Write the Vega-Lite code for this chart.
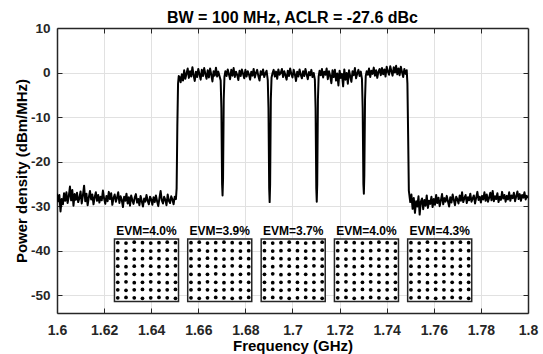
{
"$schema":"https://vega.github.io/schema/vega-lite/v6.json",
"width":471,"height":285,
"autosize":{"type":"none"},
"padding":{"left":57,"top":28,"right":15,"bottom":41},
"background":"white",
"config":{"font":"Liberation Sans","view":{"stroke":null}},
"title":{"text":"BW = 100 MHz, ACLR = -27.6 dBc","fontSize":16,"fontWeight":"bold","color":"#000000","offset":-5,"anchor":"middle","font":"Liberation Sans"},
"datasets":{
"spec":[
{"f":1.6000,"p":-27.2},{"f":1.6005,"p":-28.9},{"f":1.6010,"p":-27.5},{"f":1.6015,"p":-31.2},{"f":1.6020,"p":-28.4},{"f":1.6025,"p":-29.6},{"f":1.6030,"p":-27.1},{"f":1.6035,"p":-28.8},{"f":1.6040,"p":-26.9},{"f":1.6045,"p":-29.3},
{"f":1.6050,"p":-27.8},{"f":1.6055,"p":-25.6},{"f":1.6060,"p":-28.7},{"f":1.6065,"p":-26.4},{"f":1.6070,"p":-29.9},{"f":1.6075,"p":-27.3},{"f":1.6080,"p":-28.6},{"f":1.6085,"p":-27.0},{"f":1.6090,"p":-29.1},{"f":1.6095,"p":-28.2},
{"f":1.6100,"p":-26.7},{"f":1.6105,"p":-29.4},{"f":1.6110,"p":-27.6},{"f":1.6115,"p":-25.4},{"f":1.6120,"p":-28.9},{"f":1.6125,"p":-27.2},{"f":1.6130,"p":-29.8},{"f":1.6135,"p":-28.1},{"f":1.6140,"p":-26.6},{"f":1.6145,"p":-28.5},
{"f":1.6150,"p":-27.4},{"f":1.6155,"p":-29.6},{"f":1.6160,"p":-28.0},{"f":1.6165,"p":-26.9},{"f":1.6170,"p":-28.8},{"f":1.6175,"p":-27.5},{"f":1.6180,"p":-29.2},{"f":1.6185,"p":-27.9},{"f":1.6190,"p":-28.7},{"f":1.6195,"p":-26.5},
{"f":1.6200,"p":-28.3},{"f":1.6205,"p":-29.5},{"f":1.6210,"p":-27.7},{"f":1.6215,"p":-28.9},{"f":1.6220,"p":-26.8},{"f":1.6225,"p":-28.4},{"f":1.6230,"p":-27.1},{"f":1.6235,"p":-29.7},{"f":1.6240,"p":-28.2},{"f":1.6245,"p":-27.4},
{"f":1.6250,"p":-29.0},{"f":1.6255,"p":-28.1},{"f":1.6260,"p":-26.9},{"f":1.6265,"p":-29.3},{"f":1.6270,"p":-27.8},{"f":1.6275,"p":-28.6},{"f":1.6280,"p":-30.2},{"f":1.6285,"p":-27.9},{"f":1.6290,"p":-28.8},{"f":1.6295,"p":-27.2},
{"f":1.6300,"p":-29.4},{"f":1.6305,"p":-28.0},{"f":1.6310,"p":-29.9},{"f":1.6315,"p":-27.6},{"f":1.6320,"p":-28.7},{"f":1.6325,"p":-29.5},{"f":1.6330,"p":-28.1},{"f":1.6335,"p":-27.3},{"f":1.6340,"p":-29.2},{"f":1.6345,"p":-28.4},
{"f":1.6350,"p":-29.8},{"f":1.6355,"p":-27.7},{"f":1.6360,"p":-28.9},{"f":1.6365,"p":-30.1},{"f":1.6370,"p":-28.3},{"f":1.6375,"p":-29.0},{"f":1.6380,"p":-27.5},{"f":1.6385,"p":-28.8},{"f":1.6390,"p":-29.6},{"f":1.6395,"p":-27.9},
{"f":1.6400,"p":-28.5},{"f":1.6405,"p":-29.7},{"f":1.6410,"p":-28.0},{"f":1.6415,"p":-29.1},{"f":1.6420,"p":-27.6},{"f":1.6425,"p":-28.9},{"f":1.6430,"p":-30.0},{"f":1.6435,"p":-28.2},{"f":1.6440,"p":-26.6},{"f":1.6445,"p":-28.7},
{"f":1.6450,"p":-29.4},{"f":1.6455,"p":-27.9},{"f":1.6460,"p":-28.6},{"f":1.6465,"p":-29.8},{"f":1.6470,"p":-27.4},{"f":1.6475,"p":-28.8},{"f":1.6480,"p":-29.3},{"f":1.6485,"p":-27.8},{"f":1.6490,"p":-28.5},{"f":1.6495,"p":-29.6},
{"f":1.6500,"p":-27.9},{"f":1.6505,"p":-28.4},{"f":1.6508,"p":-26.0},{"f":1.6511,"p":-12.0},{"f":1.6514,"p":-2.5},{"f":1.6517,"p":-0.8},
{"f":1.6520,"p":-1.0},{"f":1.6525,"p":-2.2},{"f":1.6530,"p":-0.4},{"f":1.6535,"p":-1.8},{"f":1.6540,"p":0.5},{"f":1.6545,"p":-1.4},{"f":1.6550,"p":-0.2},{"f":1.6555,"p":0.9},{"f":1.6560,"p":-1.2},{"f":1.6565,"p":0.3},
{"f":1.6570,"p":-0.9},{"f":1.6575,"p":1.2},{"f":1.6580,"p":-0.6},{"f":1.6585,"p":-1.9},{"f":1.6590,"p":0.2},{"f":1.6595,"p":-1.0},{"f":1.6600,"p":0.8},{"f":1.6605,"p":-0.4},{"f":1.6610,"p":-1.6},{"f":1.6615,"p":0.6},
{"f":1.6620,"p":-0.8},{"f":1.6625,"p":1.0},{"f":1.6630,"p":-0.3},{"f":1.6635,"p":-1.4},{"f":1.6640,"p":0.5},{"f":1.6645,"p":-1.1},{"f":1.6650,"p":0.9},{"f":1.6655,"p":-0.5},{"f":1.6660,"p":-2.0},{"f":1.6665,"p":0.3},
{"f":1.6670,"p":-0.7},{"f":1.6675,"p":1.1},{"f":1.6680,"p":-0.9},{"f":1.6685,"p":0.2},{"f":1.6690,"p":-0.8},{"f":1.6695,"p":-1.8},{"f":1.6698,"p":-8},{"f":1.6701,"p":-25},{"f":1.6703,"p":-27.6},{"f":1.6705,"p":-24},{"f":1.6708,"p":-6},{"f":1.6711,"p":-1.0},
{"f":1.6715,"p":0.3},{"f":1.6720,"p":-0.8},{"f":1.6725,"p":0.7},{"f":1.6730,"p":-0.4},{"f":1.6735,"p":-1.5},{"f":1.6740,"p":0.6},{"f":1.6745,"p":-0.7},{"f":1.6750,"p":1.0},{"f":1.6755,"p":-1.0},{"f":1.6760,"p":0.2},
{"f":1.6765,"p":-0.5},{"f":1.6770,"p":-1.7},{"f":1.6775,"p":0.4},{"f":1.6780,"p":-0.8},{"f":1.6785,"p":0.7},{"f":1.6790,"p":-0.3},{"f":1.6795,"p":-1.3},{"f":1.6800,"p":0.6},{"f":1.6805,"p":-0.9},{"f":1.6810,"p":0.3},
{"f":1.6815,"p":-0.4},{"f":1.6820,"p":-1.6},{"f":1.6825,"p":0.2},{"f":1.6830,"p":-0.7},{"f":1.6835,"p":0.8},{"f":1.6840,"p":-1.1},{"f":1.6845,"p":-0.1},{"f":1.6850,"p":0.6},{"f":1.6855,"p":-0.8},{"f":1.6860,"p":-1.8},
{"f":1.6865,"p":0.3},{"f":1.6870,"p":-0.5},{"f":1.6875,"p":0.7},{"f":1.6880,"p":-1.0},{"f":1.6885,"p":-0.2},{"f":1.6890,"p":0.4},{"f":1.6895,"p":-1.7},{"f":1.6898,"p":-8},{"f":1.6901,"p":-26},{"f":1.6903,"p":-29.1},{"f":1.6905,"p":-25},{"f":1.6908,"p":-6},{"f":1.6911,"p":-1.1},
{"f":1.6915,"p":-0.2},{"f":1.6920,"p":0.6},{"f":1.6925,"p":-0.9},{"f":1.6930,"p":0.2},{"f":1.6935,"p":-1.4},{"f":1.6940,"p":0.7},{"f":1.6945,"p":-0.5},{"f":1.6950,"p":-0.1},{"f":1.6955,"p":0.8},{"f":1.6960,"p":-1.0},
{"f":1.6965,"p":0.3},{"f":1.6970,"p":-0.6},{"f":1.6975,"p":-1.6},{"f":1.6980,"p":0.4},{"f":1.6985,"p":-0.8},{"f":1.6990,"p":0.9},{"f":1.6995,"p":-0.3},{"f":1.7000,"p":-1.1},{"f":1.7005,"p":0.6},{"f":1.7010,"p":-0.4},
{"f":1.7015,"p":-1.9},{"f":1.7020,"p":0.2},{"f":1.7025,"p":-0.9},{"f":1.7030,"p":0.7},{"f":1.7035,"p":-0.5},{"f":1.7040,"p":-1.3},{"f":1.7045,"p":0.3},{"f":1.7050,"p":-0.8},{"f":1.7055,"p":0.8},{"f":1.7060,"p":-0.4},
{"f":1.7065,"p":-1.5},{"f":1.7070,"p":0.1},{"f":1.7075,"p":-0.6},{"f":1.7080,"p":0.6},{"f":1.7085,"p":-1.0},{"f":1.7090,"p":-0.1},{"f":1.7095,"p":-1.6},{"f":1.7098,"p":-8},{"f":1.7101,"p":-26},{"f":1.7103,"p":-29.0},{"f":1.7105,"p":-25},{"f":1.7108,"p":-6},{"f":1.7111,"p":-0.9},
{"f":1.7115,"p":0.4},{"f":1.7120,"p":-0.6},{"f":1.7125,"p":0.8},{"f":1.7130,"p":-1.1},{"f":1.7135,"p":0.2},{"f":1.7140,"p":-0.5},{"f":1.7145,"p":0.9},{"f":1.7150,"p":-1.5},{"f":1.7155,"p":0.3},{"f":1.7160,"p":-0.7},
{"f":1.7165,"p":-2.4},{"f":1.7170,"p":0.5},{"f":1.7175,"p":-1.0},{"f":1.7180,"p":0.6},{"f":1.7185,"p":-1.8},{"f":1.7190,"p":-0.2},{"f":1.7195,"p":-2.9},{"f":1.7200,"p":0.4},{"f":1.7205,"p":-1.2},{"f":1.7210,"p":-0.3},
{"f":1.7215,"p":-3.1},{"f":1.7220,"p":0.7},{"f":1.7225,"p":-1.6},{"f":1.7230,"p":-0.1},{"f":1.7235,"p":-2.5},{"f":1.7240,"p":0.5},{"f":1.7245,"p":-0.8},{"f":1.7250,"p":-2.1},{"f":1.7255,"p":0.3},{"f":1.7260,"p":-0.6},
{"f":1.7265,"p":1.0},{"f":1.7270,"p":-1.3},{"f":1.7275,"p":-0.2},{"f":1.7280,"p":0.6},{"f":1.7285,"p":-0.8},{"f":1.7290,"p":0.2},{"f":1.7295,"p":-1.5},{"f":1.7298,"p":-8},{"f":1.7301,"p":-25},{"f":1.7303,"p":-27.2},{"f":1.7305,"p":-23},{"f":1.7308,"p":-6},{"f":1.7311,"p":-0.8},
{"f":1.7315,"p":0.3},{"f":1.7320,"p":-0.5},{"f":1.7325,"p":0.9},{"f":1.7330,"p":-1.0},{"f":1.7335,"p":0.4},{"f":1.7340,"p":-0.3},{"f":1.7345,"p":1.1},{"f":1.7350,"p":-0.7},{"f":1.7355,"p":0.5},{"f":1.7360,"p":-1.2},
{"f":1.7365,"p":0.2},{"f":1.7370,"p":0.8},{"f":1.7375,"p":-0.6},{"f":1.7380,"p":1.0},{"f":1.7385,"p":-0.4},{"f":1.7390,"p":0.7},{"f":1.7395,"p":-0.9},{"f":1.7400,"p":1.3},{"f":1.7405,"p":0.2},{"f":1.7410,"p":-0.5},
{"f":1.7415,"p":1.4},{"f":1.7420,"p":0.3},{"f":1.7425,"p":-0.7},{"f":1.7430,"p":1.2},{"f":1.7435,"p":0.0},{"f":1.7440,"p":1.5},{"f":1.7445,"p":-0.4},{"f":1.7450,"p":0.9},{"f":1.7455,"p":-0.6},{"f":1.7460,"p":1.3},
{"f":1.7465,"p":0.1},{"f":1.7470,"p":-1.0},{"f":1.7475,"p":0.8},{"f":1.7480,"p":-0.3},{"f":1.7485,"p":0.5},{"f":1.7488,"p":-2.5},{"f":1.7491,"p":-14},{"f":1.7494,"p":-26.5},
{"f":1.7500,"p":-29.1},{"f":1.7505,"p":-27.4},{"f":1.7510,"p":-30.6},{"f":1.7515,"p":-28.2},{"f":1.7520,"p":-31.5},{"f":1.7525,"p":-28.9},{"f":1.7530,"p":-30.1},{"f":1.7535,"p":-27.8},{"f":1.7540,"p":-31.9},{"f":1.7545,"p":-29.0},
{"f":1.7550,"p":-28.3},{"f":1.7555,"p":-30.7},{"f":1.7560,"p":-28.6},{"f":1.7565,"p":-29.9},{"f":1.7570,"p":-27.6},{"f":1.7575,"p":-30.4},{"f":1.7580,"p":-28.8},{"f":1.7585,"p":-29.5},{"f":1.7590,"p":-27.9},{"f":1.7595,"p":-30.2},
{"f":1.7600,"p":-28.4},{"f":1.7605,"p":-29.7},{"f":1.7610,"p":-27.5},{"f":1.7615,"p":-29.3},{"f":1.7620,"p":-28.1},{"f":1.7625,"p":-30.0},{"f":1.7630,"p":-28.7},{"f":1.7635,"p":-27.3},{"f":1.7640,"p":-29.6},{"f":1.7645,"p":-28.2},
{"f":1.7650,"p":-29.0},{"f":1.7655,"p":-27.7},{"f":1.7660,"p":-28.9},{"f":1.7665,"p":-30.1},{"f":1.7670,"p":-28.0},{"f":1.7675,"p":-29.2},{"f":1.7680,"p":-27.4},{"f":1.7685,"p":-28.6},{"f":1.7690,"p":-29.8},{"f":1.7695,"p":-27.9},
{"f":1.7700,"p":-28.5},{"f":1.7705,"p":-29.4},{"f":1.7710,"p":-27.6},{"f":1.7715,"p":-28.8},{"f":1.7720,"p":-26.9},{"f":1.7725,"p":-29.1},{"f":1.7730,"p":-28.2},{"f":1.7735,"p":-27.5},{"f":1.7740,"p":-29.3},{"f":1.7745,"p":-28.0},
{"f":1.7750,"p":-28.7},{"f":1.7755,"p":-27.2},{"f":1.7760,"p":-29.0},{"f":1.7765,"p":-28.3},{"f":1.7770,"p":-27.6},{"f":1.7775,"p":-29.4},{"f":1.7780,"p":-28.1},{"f":1.7785,"p":-26.8},{"f":1.7790,"p":-28.6},{"f":1.7795,"p":-27.9},
{"f":1.7800,"p":-29.2},{"f":1.7805,"p":-27.7},{"f":1.7810,"p":-28.5},{"f":1.7815,"p":-26.9},{"f":1.7820,"p":-28.8},{"f":1.7825,"p":-27.4},{"f":1.7830,"p":-29.0},{"f":1.7835,"p":-28.1},{"f":1.7840,"p":-27.0},{"f":1.7845,"p":-28.7},
{"f":1.7850,"p":-26.6},{"f":1.7855,"p":-28.9},{"f":1.7860,"p":-27.8},{"f":1.7865,"p":-28.4},{"f":1.7870,"p":-27.1},{"f":1.7875,"p":-29.1},{"f":1.7880,"p":-27.9},{"f":1.7885,"p":-28.6},{"f":1.7890,"p":-26.8},{"f":1.7895,"p":-28.3},
{"f":1.7900,"p":-27.5},{"f":1.7905,"p":-29.0},{"f":1.7910,"p":-27.7},{"f":1.7915,"p":-28.5},{"f":1.7920,"p":-26.9},{"f":1.7925,"p":-28.8},{"f":1.7930,"p":-27.6},{"f":1.7935,"p":-28.2},{"f":1.7940,"p":-27.0},{"f":1.7945,"p":-28.9},
{"f":1.7950,"p":-27.8},{"f":1.7955,"p":-26.7},{"f":1.7960,"p":-28.4},{"f":1.7965,"p":-27.3},{"f":1.7970,"p":-28.8},{"f":1.7975,"p":-27.5},{"f":1.7980,"p":-28.1},{"f":1.7985,"p":-26.9},{"f":1.7990,"p":-28.5},{"f":1.7995,"p":-27.7},{"f":1.8000,"p":-28.2}
],
"boxes":[
{"x0":1.6244,"x1":1.6516,"y0":-37.4,"y1":-51.4},
{"x0":1.6555,"x1":1.6827,"y0":-37.4,"y1":-51.4},
{"x0":1.6867,"x1":1.7139,"y0":-37.4,"y1":-51.4},
{"x0":1.7178,"x1":1.7450,"y0":-37.4,"y1":-51.4},
{"x0":1.7489,"x1":1.7761,"y0":-37.4,"y1":-51.4}
],
"labels":[
{"f":1.6380,"p":-36.5,"t":"EVM=4.0%"},
{"f":1.6691,"p":-36.5,"t":"EVM=3.9%"},
{"f":1.7003,"p":-36.5,"t":"EVM=3.7%"},
{"f":1.7314,"p":-36.5,"t":"EVM=4.0%"},
{"f":1.7625,"p":-36.5,"t":"EVM=4.3%"}
],
"dots":[
{"f":1.6258,"p":-38.2},{"f":1.6293,"p":-38.3},{"f":1.6328,"p":-38.1},{"f":1.6363,"p":-38.2},{"f":1.6398,"p":-38.3},{"f":1.6433,"p":-38.2},{"f":1.6468,"p":-38.1},{"f":1.6503,"p":-38.2},
{"f":1.6258,"p":-40.0},{"f":1.6293,"p":-40.1},{"f":1.6328,"p":-39.9},{"f":1.6363,"p":-40.0},{"f":1.6398,"p":-40.1},{"f":1.6433,"p":-40.0},{"f":1.6468,"p":-39.9},{"f":1.6503,"p":-40.0},
{"f":1.6258,"p":-41.8},{"f":1.6293,"p":-41.7},{"f":1.6328,"p":-41.9},{"f":1.6363,"p":-41.8},{"f":1.6398,"p":-41.7},{"f":1.6433,"p":-41.8},{"f":1.6468,"p":-41.9},{"f":1.6503,"p":-41.8},
{"f":1.6258,"p":-43.5},{"f":1.6293,"p":-43.6},{"f":1.6328,"p":-43.5},{"f":1.6363,"p":-43.4},{"f":1.6398,"p":-43.5},{"f":1.6433,"p":-43.6},{"f":1.6468,"p":-43.5},{"f":1.6503,"p":-43.4},
{"f":1.6258,"p":-45.3},{"f":1.6293,"p":-45.2},{"f":1.6328,"p":-45.3},{"f":1.6363,"p":-45.4},{"f":1.6398,"p":-45.3},{"f":1.6433,"p":-45.2},{"f":1.6468,"p":-45.3},{"f":1.6503,"p":-45.4},
{"f":1.6258,"p":-47.1},{"f":1.6293,"p":-47.0},{"f":1.6328,"p":-47.2},{"f":1.6363,"p":-47.1},{"f":1.6398,"p":-47.0},{"f":1.6433,"p":-47.1},{"f":1.6468,"p":-47.2},{"f":1.6503,"p":-47.1},
{"f":1.6258,"p":-48.8},{"f":1.6293,"p":-48.9},{"f":1.6328,"p":-48.8},{"f":1.6363,"p":-48.7},{"f":1.6398,"p":-48.8},{"f":1.6433,"p":-48.9},{"f":1.6468,"p":-48.8},{"f":1.6503,"p":-48.7},
{"f":1.6258,"p":-50.6},{"f":1.6293,"p":-50.5},{"f":1.6328,"p":-50.6},{"f":1.6363,"p":-50.7},{"f":1.6398,"p":-50.6},{"f":1.6433,"p":-50.5},{"f":1.6468,"p":-50.6},{"f":1.6503,"p":-50.7},
{"f":1.6569,"p":-38.2},{"f":1.6604,"p":-38.1},{"f":1.6639,"p":-38.3},{"f":1.6674,"p":-38.2},{"f":1.6709,"p":-38.1},{"f":1.6744,"p":-38.2},{"f":1.6779,"p":-38.3},{"f":1.6814,"p":-38.2},
{"f":1.6569,"p":-40.0},{"f":1.6604,"p":-39.9},{"f":1.6639,"p":-40.1},{"f":1.6674,"p":-40.0},{"f":1.6709,"p":-39.9},{"f":1.6744,"p":-40.0},{"f":1.6779,"p":-40.1},{"f":1.6814,"p":-40.0},
{"f":1.6569,"p":-41.8},{"f":1.6604,"p":-41.9},{"f":1.6639,"p":-41.7},{"f":1.6674,"p":-41.8},{"f":1.6709,"p":-41.9},{"f":1.6744,"p":-41.8},{"f":1.6779,"p":-41.7},{"f":1.6814,"p":-41.8},
{"f":1.6569,"p":-43.5},{"f":1.6604,"p":-43.4},{"f":1.6639,"p":-43.5},{"f":1.6674,"p":-43.6},{"f":1.6709,"p":-43.5},{"f":1.6744,"p":-43.4},{"f":1.6779,"p":-43.5},{"f":1.6814,"p":-43.6},
{"f":1.6569,"p":-45.3},{"f":1.6604,"p":-45.4},{"f":1.6639,"p":-45.3},{"f":1.6674,"p":-45.2},{"f":1.6709,"p":-45.3},{"f":1.6744,"p":-45.4},{"f":1.6779,"p":-45.3},{"f":1.6814,"p":-45.2},
{"f":1.6569,"p":-47.1},{"f":1.6604,"p":-47.2},{"f":1.6639,"p":-47.0},{"f":1.6674,"p":-47.1},{"f":1.6709,"p":-47.2},{"f":1.6744,"p":-47.1},{"f":1.6779,"p":-47.0},{"f":1.6814,"p":-47.1},
{"f":1.6569,"p":-48.8},{"f":1.6604,"p":-48.7},{"f":1.6639,"p":-48.8},{"f":1.6674,"p":-48.9},{"f":1.6709,"p":-48.8},{"f":1.6744,"p":-48.7},{"f":1.6779,"p":-48.8},{"f":1.6814,"p":-48.9},
{"f":1.6569,"p":-50.6},{"f":1.6604,"p":-50.7},{"f":1.6639,"p":-50.6},{"f":1.6674,"p":-50.5},{"f":1.6709,"p":-50.6},{"f":1.6744,"p":-50.7},{"f":1.6779,"p":-50.6},{"f":1.6814,"p":-50.5},
{"f":1.6881,"p":-38.2},{"f":1.6916,"p":-38.3},{"f":1.6951,"p":-38.2},{"f":1.6986,"p":-38.1},{"f":1.7021,"p":-38.2},{"f":1.7056,"p":-38.3},{"f":1.7091,"p":-38.2},{"f":1.7126,"p":-38.1},
{"f":1.6881,"p":-40.0},{"f":1.6916,"p":-40.1},{"f":1.6951,"p":-40.0},{"f":1.6986,"p":-39.9},{"f":1.7021,"p":-40.0},{"f":1.7056,"p":-40.1},{"f":1.7091,"p":-40.0},{"f":1.7126,"p":-39.9},
{"f":1.6881,"p":-41.8},{"f":1.6916,"p":-41.7},{"f":1.6951,"p":-41.8},{"f":1.6986,"p":-41.9},{"f":1.7021,"p":-41.8},{"f":1.7056,"p":-41.7},{"f":1.7091,"p":-41.8},{"f":1.7126,"p":-41.9},
{"f":1.6881,"p":-43.5},{"f":1.6916,"p":-43.6},{"f":1.6951,"p":-43.4},{"f":1.6986,"p":-43.5},{"f":1.7021,"p":-43.6},{"f":1.7056,"p":-43.5},{"f":1.7091,"p":-43.4},{"f":1.7126,"p":-43.5},
{"f":1.6881,"p":-45.3},{"f":1.6916,"p":-45.2},{"f":1.6951,"p":-45.4},{"f":1.6986,"p":-45.3},{"f":1.7021,"p":-45.2},{"f":1.7056,"p":-45.3},{"f":1.7091,"p":-45.4},{"f":1.7126,"p":-45.3},
{"f":1.6881,"p":-47.1},{"f":1.6916,"p":-47.2},{"f":1.6951,"p":-47.1},{"f":1.6986,"p":-47.0},{"f":1.7021,"p":-47.1},{"f":1.7056,"p":-47.2},{"f":1.7091,"p":-47.1},{"f":1.7126,"p":-47.0},
{"f":1.6881,"p":-48.8},{"f":1.6916,"p":-48.7},{"f":1.6951,"p":-48.9},{"f":1.6986,"p":-48.8},{"f":1.7021,"p":-48.7},{"f":1.7056,"p":-48.8},{"f":1.7091,"p":-48.9},{"f":1.7126,"p":-48.8},
{"f":1.6881,"p":-50.6},{"f":1.6916,"p":-50.5},{"f":1.6951,"p":-50.6},{"f":1.6986,"p":-50.7},{"f":1.7021,"p":-50.6},{"f":1.7056,"p":-50.5},{"f":1.7091,"p":-50.6},{"f":1.7126,"p":-50.7},
{"f":1.7192,"p":-38.2},{"f":1.7227,"p":-38.1},{"f":1.7262,"p":-38.2},{"f":1.7297,"p":-38.3},{"f":1.7332,"p":-38.2},{"f":1.7367,"p":-38.1},{"f":1.7402,"p":-38.2},{"f":1.7437,"p":-38.3},
{"f":1.7192,"p":-40.0},{"f":1.7227,"p":-39.9},{"f":1.7262,"p":-40.0},{"f":1.7297,"p":-40.1},{"f":1.7332,"p":-40.0},{"f":1.7367,"p":-39.9},{"f":1.7402,"p":-40.0},{"f":1.7437,"p":-40.1},
{"f":1.7192,"p":-41.8},{"f":1.7227,"p":-41.9},{"f":1.7262,"p":-41.8},{"f":1.7297,"p":-41.7},{"f":1.7332,"p":-41.8},{"f":1.7367,"p":-41.9},{"f":1.7402,"p":-41.8},{"f":1.7437,"p":-41.7},
{"f":1.7192,"p":-43.5},{"f":1.7227,"p":-43.4},{"f":1.7262,"p":-43.6},{"f":1.7297,"p":-43.5},{"f":1.7332,"p":-43.4},{"f":1.7367,"p":-43.5},{"f":1.7402,"p":-43.6},{"f":1.7437,"p":-43.5},
{"f":1.7192,"p":-45.3},{"f":1.7227,"p":-45.4},{"f":1.7262,"p":-45.3},{"f":1.7297,"p":-45.2},{"f":1.7332,"p":-45.3},{"f":1.7367,"p":-45.4},{"f":1.7402,"p":-45.3},{"f":1.7437,"p":-45.2},
{"f":1.7192,"p":-47.1},{"f":1.7227,"p":-47.0},{"f":1.7262,"p":-47.2},{"f":1.7297,"p":-47.1},{"f":1.7332,"p":-47.0},{"f":1.7367,"p":-47.1},{"f":1.7402,"p":-47.2},{"f":1.7437,"p":-47.1},
{"f":1.7192,"p":-48.8},{"f":1.7227,"p":-48.9},{"f":1.7262,"p":-48.8},{"f":1.7297,"p":-48.7},{"f":1.7332,"p":-48.8},{"f":1.7367,"p":-48.9},{"f":1.7402,"p":-48.8},{"f":1.7437,"p":-48.7},
{"f":1.7192,"p":-50.6},{"f":1.7227,"p":-50.5},{"f":1.7262,"p":-50.7},{"f":1.7297,"p":-50.6},{"f":1.7332,"p":-50.5},{"f":1.7367,"p":-50.6},{"f":1.7402,"p":-50.7},{"f":1.7437,"p":-50.6},
{"f":1.7503,"p":-38.2},{"f":1.7538,"p":-38.3},{"f":1.7573,"p":-38.1},{"f":1.7608,"p":-38.2},{"f":1.7643,"p":-38.3},{"f":1.7678,"p":-38.2},{"f":1.7713,"p":-38.1},{"f":1.7748,"p":-38.2},
{"f":1.7503,"p":-40.0},{"f":1.7538,"p":-40.1},{"f":1.7573,"p":-39.9},{"f":1.7608,"p":-40.0},{"f":1.7643,"p":-40.1},{"f":1.7678,"p":-40.0},{"f":1.7713,"p":-39.9},{"f":1.7748,"p":-40.0},
{"f":1.7503,"p":-41.8},{"f":1.7538,"p":-41.7},{"f":1.7573,"p":-41.9},{"f":1.7608,"p":-41.8},{"f":1.7643,"p":-41.7},{"f":1.7678,"p":-41.8},{"f":1.7713,"p":-41.9},{"f":1.7748,"p":-41.8},
{"f":1.7503,"p":-43.5},{"f":1.7538,"p":-43.6},{"f":1.7573,"p":-43.5},{"f":1.7608,"p":-43.4},{"f":1.7643,"p":-43.5},{"f":1.7678,"p":-43.6},{"f":1.7713,"p":-43.5},{"f":1.7748,"p":-43.4},
{"f":1.7503,"p":-45.3},{"f":1.7538,"p":-45.2},{"f":1.7573,"p":-45.3},{"f":1.7608,"p":-45.4},{"f":1.7643,"p":-45.3},{"f":1.7678,"p":-45.2},{"f":1.7713,"p":-45.3},{"f":1.7748,"p":-45.4},
{"f":1.7503,"p":-47.1},{"f":1.7538,"p":-47.0},{"f":1.7573,"p":-47.2},{"f":1.7608,"p":-47.1},{"f":1.7643,"p":-47.0},{"f":1.7678,"p":-47.1},{"f":1.7713,"p":-47.2},{"f":1.7748,"p":-47.1},
{"f":1.7503,"p":-48.8},{"f":1.7538,"p":-48.9},{"f":1.7573,"p":-48.8},{"f":1.7608,"p":-48.7},{"f":1.7643,"p":-48.8},{"f":1.7678,"p":-48.9},{"f":1.7713,"p":-48.8},{"f":1.7748,"p":-48.7},
{"f":1.7503,"p":-50.6},{"f":1.7538,"p":-50.5},{"f":1.7573,"p":-50.6},{"f":1.7608,"p":-50.7},{"f":1.7643,"p":-50.6},{"f":1.7678,"p":-50.5},{"f":1.7713,"p":-50.6},{"f":1.7748,"p":-50.7}
]
},
"layer":[
{"data":{"name":"spec"},
 "mark":{"type":"line","color":"#000000","strokeWidth":2,"strokeJoin":"round","clip":true},
 "encoding":{
  "x":{"field":"f","type":"quantitative","scale":{"domain":[1.6,1.8],"nice":false,"zero":false},
   "axis":{"orient":"bottom","values":[1.6,1.62,1.64,1.66,1.68,1.7,1.72,1.74,1.76,1.78,1.8],"labelExpr":"toString(datum.value)","grid":false,"tickSize":-5,"tickColor":"#262626","tickWidth":1,"domainColor":"#262626","domainWidth":1.5,"labelFont":"Liberation Sans","labelFontSize":14,"labelFontWeight":"bold","labelColor":"#262626","labelPadding":15,"labelFlush":false,"labelOverlap":false,"title":"Frequency (GHz)","titleFont":"Liberation Sans","titleFontSize":15,"titleFontWeight":"bold","titleColor":"#000000","titlePadding":1}},
  "y":{"field":"p","type":"quantitative","scale":{"domain":[-54,10],"nice":false,"zero":false},
   "axis":{"orient":"left","values":[-50,-40,-30,-20,-10,0,10],"labelExpr":"toString(datum.value)","grid":false,"tickSize":-5,"tickColor":"#262626","tickWidth":1,"domainColor":"#262626","domainWidth":1.5,"labelFont":"Liberation Sans","labelFontSize":13.5,"labelFontWeight":"bold","labelColor":"#262626","labelPadding":12,"labelFlush":false,"labelOverlap":false,"title":"Power density (dBm/MHz)","titleFont":"Liberation Sans","titleFontSize":15,"titleFontWeight":"bold","titleColor":"#000000","titlePadding":1}}
 }},
{"data":{"name":"boxes"},
 "mark":{"type":"rect","fill":"#ffffff","stroke":"#262626","strokeWidth":1.5},
 "encoding":{
  "x":{"field":"x0","type":"quantitative","scale":{"domain":[1.6,1.8],"nice":false,"zero":false},
   "axis":{"orient":"top","values":[1.62,1.64,1.66,1.68,1.7,1.72,1.74,1.76,1.78],"labels":false,"grid":true,"gridColor":"#e1e1e1","gridWidth":1,"tickSize":-5,"tickColor":"#262626","tickWidth":1,"domainColor":"#262626","domainWidth":1.5,"title":null}},
  "x2":{"field":"x1"},
  "y":{"field":"y0","type":"quantitative","scale":{"domain":[-54,10],"nice":false,"zero":false},
   "axis":{"orient":"right","values":[-50,-40,-30,-20,-10,0],"labels":false,"grid":true,"gridColor":"#e1e1e1","gridWidth":1,"tickSize":-5,"tickColor":"#262626","tickWidth":1,"domainColor":"#262626","domainWidth":1.5,"title":null}},
  "y2":{"field":"y1"}
 }},
{"data":{"name":"dots"},
 "mark":{"type":"point","filled":true,"shape":"circle","size":14,"color":"#000000","opacity":1},
 "encoding":{
  "x":{"field":"f","type":"quantitative","scale":{"domain":[1.6,1.8],"nice":false,"zero":false},"axis":null},
  "y":{"field":"p","type":"quantitative","scale":{"domain":[-54,10],"nice":false,"zero":false},"axis":null}
 }},
{"data":{"name":"labels"},
 "mark":{"type":"text","font":"Liberation Sans","fontSize":12,"fontWeight":"bold","color":"#000000","align":"center","baseline":"alphabetic"},
 "encoding":{
  "x":{"field":"f","type":"quantitative","scale":{"domain":[1.6,1.8],"nice":false,"zero":false},"axis":null},
  "y":{"field":"p","type":"quantitative","scale":{"domain":[-54,10],"nice":false,"zero":false},"axis":null},
  "text":{"field":"t"}
 }}
],
"resolve":{"axis":{"x":"independent","y":"independent"}}
}
